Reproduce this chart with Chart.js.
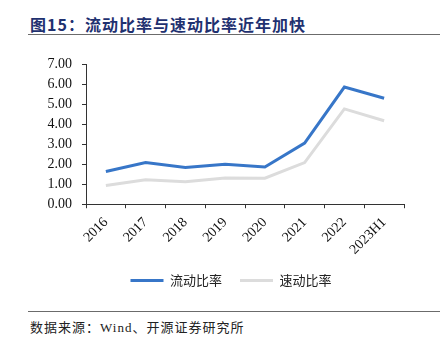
<!DOCTYPE html>
<html>
<head>
<meta charset="utf-8">
<script src="https://cdn.jsdelivr.net/npm/chart.js@4"></script>
<style>
  html, body { margin: 0; padding: 0; background: #fff; }
  #page { position: relative; width: 444px; height: 346px; overflow: hidden; }
  #title {
    position: absolute; left: 30px; top: 12px;
    font-family: "Noto Sans CJK SC", sans-serif; font-weight: bold;
    font-size: 16px; letter-spacing: 1px; color: #1f3170; white-space: nowrap;
  }
  .rule { position: absolute; left: 28px; width: 412px; height: 0; border-top: 1.5px solid #6b6b6b; }
  #source {
    position: absolute; left: 30px; top: 317px;
    font-family: "Noto Sans CJK SC", "Liberation Serif", serif;
    font-size: 13px; letter-spacing: 1px; color: #222; white-space: nowrap;
  }
  #wrap { position: absolute; left: 0; top: 44px; width: 444px; height: 257px; }
</style>
</head>
<body>
<div id="page">
  <div id="title">图15：流动比率与速动比率近年加快</div>
  <div class="rule" style="top:34px"></div>
  <div id="wrap"><canvas id="ratio-chart"></canvas></div>
  <div class="rule" style="top:311px"></div>
  <div id="source">数据来源：<span style="font-family:'Liberation Serif',serif">Wind</span>、开源证券研究所</div>
</div>
<script>
const years = ['2016', '2017', '2018', '2019', '2020', '2021', '2022', '2023H1'];
const currentRatio = [1.63, 2.08, 1.83, 2.00, 1.86, 3.05, 5.85, 5.29];
const quickRatio = [0.94, 1.22, 1.12, 1.31, 1.30, 2.08, 4.76, 4.17];

const axisFont = { family: 'Liberation Serif', size: 14 };

// nudge the legend so it sits centred under the plot area rather than the canvas
const legendShift = {
  id: 'legendShift',
  afterLayout(chart) {
    chart.legend.left += 29;
    chart.legend.right += 29;
  }
};

new Chart(document.getElementById('ratio-chart'), {
  type: 'line',
  data: {
    labels: years,
    datasets: [
      {
        label: '流动比率',
        data: currentRatio,
        borderColor: '#3776c8',
        backgroundColor: '#3776c8',
        borderWidth: 3,
        pointRadius: 0,
        tension: 0
      },
      {
        label: '速动比率',
        data: quickRatio,
        borderColor: '#dcdcdc',
        backgroundColor: '#dcdcdc',
        borderWidth: 3,
        pointRadius: 0,
        tension: 0
      }
    ]
  },
  plugins: [legendShift],
  options: {
    responsive: true,
    maintainAspectRatio: false,
    animation: false,
    layout: { padding: { top: 20, right: 40, left: 0, bottom: 4 } },
    plugins: {
      tooltip: { enabled: false },
      legend: {
        position: 'bottom',
        labels: {
          boxWidth: 33,
          boxHeight: 3,
          padding: 18,
          color: '#222',
          font: { family: 'Noto Sans CJK SC', size: 13 },
          // flat bars without the dataset's stroke around them
          generateLabels: chart => Chart.defaults.plugins.legend.labels.generateLabels(chart)
            .map(item => Object.assign(item, { lineWidth: 0 }))
        }
      }
    },
    scales: {
      x: {
        offset: true,
        afterFit: scale => { scale.height -= 8; },
        grid: { display: true, drawOnChartArea: false, tickLength: 4, color: '#333', offset: true },
        border: { color: '#333', width: 1 },
        ticks: { color: '#111', font: axisFont, maxRotation: 45, minRotation: 45, padding: 6 }
      },
      y: {
        min: 0,
        max: 7,
        afterFit: scale => { scale.width = 86; },
        grid: { display: true, drawOnChartArea: false, tickLength: 4, color: '#333' },
        border: { color: '#333', width: 1 },
        ticks: {
          color: '#111', font: axisFont, padding: 10,
          stepSize: 1, autoSkip: false,
          callback: v => v.toFixed(2)
        }
      }
    }
  }
});
</script>
</body>
</html>
